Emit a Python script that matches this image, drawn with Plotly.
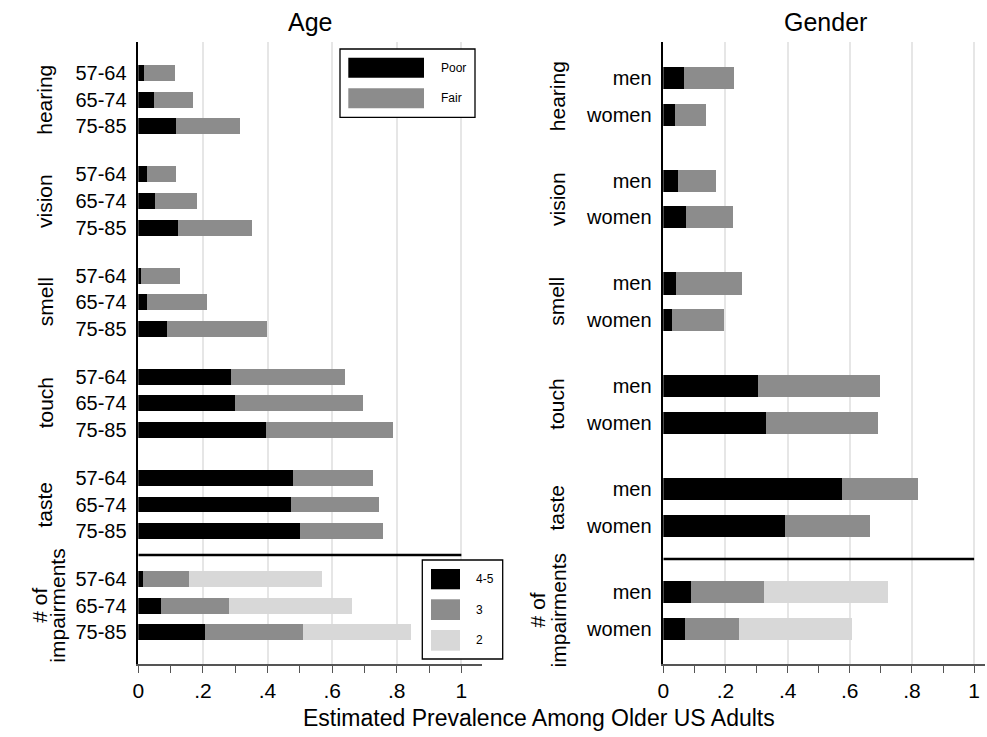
import plotly.graph_objects as go

# ---------------- data ----------------
senses = ["hearing", "vision", "smell", "touch", "taste"]
age_groups = ["57-64", "65-74", "75-85"]
genders = ["men", "women"]

# Age panel: share rating "Poor" and "Fair" (rows: age groups within each sense)
age_poor = {
    "hearing": [0.020, 0.048, 0.119],
    "vision":  [0.029, 0.053, 0.124],
    "smell":   [0.008, 0.028, 0.090],
    "touch":   [0.287, 0.300, 0.396],
    "taste":   [0.481, 0.473, 0.500],
}
age_fair = {
    "hearing": [0.094, 0.122, 0.197],
    "vision":  [0.090, 0.129, 0.228],
    "smell":   [0.121, 0.187, 0.310],
    "touch":   [0.355, 0.398, 0.394],
    "taste":   [0.247, 0.274, 0.258],
}
# number of impairments by age
age_imp_45 = [0.017, 0.071, 0.207]
age_imp_3 = [0.140, 0.211, 0.305]
age_imp_2 = [0.412, 0.381, 0.332]

# Gender panel
gen_poor = {
    "hearing": [0.066, 0.040],
    "vision":  [0.047, 0.074],
    "smell":   [0.042, 0.028],
    "touch":   [0.306, 0.330],
    "taste":   [0.576, 0.392],
}
gen_fair = {
    "hearing": [0.161, 0.097],
    "vision":  [0.124, 0.151],
    "smell":   [0.211, 0.167],
    "touch":   [0.392, 0.361],
    "taste":   [0.243, 0.273],
}
gen_imp_45 = [0.090, 0.072]
gen_imp_3 = [0.235, 0.171]
gen_imp_2 = [0.398, 0.364]

x_ticks = [0, 0.2, 0.4, 0.6, 0.8, 1.0]
x_ticktext = ["0", ".2", ".4", ".6", ".8", "1"]
impair_lines = ["# of", "impairments"]

# ---------------- styling / layout constants ----------------
W, H = 987, 737
BLACK, GRAY, LIGHT = "#000000", "#8c8c8c", "#d8d8d8"
FONT = "Liberation Sans, Arial, Helvetica, sans-serif"
GAP_L, GAP_R = 3.8, 2.8   # spacing between groups (in row units)
BAR_W = 0.6


def px(x):
    return x / W


def py(y):
    return 1 - y / H


fig = go.Figure()


def positions(gap, n):
    pos = []
    for g in range(len(senses) + 1):
        pos.append([g * gap + i for i in range(n)])
    return pos


pos_l = positions(GAP_L, len(age_groups))
pos_r = positions(GAP_R, len(genders))


def add_stack(xs, ys, color, xa, ya, name):
    fig.add_trace(go.Bar(x=xs, y=ys, orientation="h", width=BAR_W,
                         marker=dict(color=color, line=dict(width=0)),
                         name=name, showlegend=False, xaxis=xa, yaxis=ya))


# left panel
ly, lp, lf = [], [], []
for g, s in enumerate(senses):
    ly += pos_l[g]
    lp += age_poor[s]
    lf += age_fair[s]
add_stack(lp, ly, BLACK, "x", "y", "Poor")
add_stack(lf, ly, GRAY, "x", "y", "Fair")
add_stack(age_imp_45, pos_l[5], BLACK, "x", "y", "4-5")
add_stack(age_imp_3, pos_l[5], GRAY, "x", "y", "3")
add_stack(age_imp_2, pos_l[5], LIGHT, "x", "y", "2")

# right panel
ry, rp, rf = [], [], []
for g, s in enumerate(senses):
    ry += pos_r[g]
    rp += gen_poor[s]
    rf += gen_fair[s]
add_stack(rp, ry, BLACK, "x2", "y2", "Poor")
add_stack(rf, ry, GRAY, "x2", "y2", "Fair")
add_stack(gen_imp_45, pos_r[5], BLACK, "x2", "y2", "4-5")
add_stack(gen_imp_3, pos_r[5], GRAY, "x2", "y2", "3")
add_stack(gen_imp_2, pos_r[5], LIGHT, "x2", "y2", "2")

# ---------------- axes ----------------
plot_top, plot_bot = 42, 664
ydom = [py(plot_bot), py(plot_top)]


def xaxis_cfg(dom, rng):
    return dict(domain=dom, range=rng, tickvals=x_ticks, ticktext=x_ticktext,
                ticks="outside", ticklen=7, tickcolor="#555", tickwidth=1.3,
                minor=dict(dtick=0.1, tick0=0, ticks="outside", ticklen=7,
                           tickcolor="#555", tickwidth=1.3, showgrid=False),
                showgrid=True, gridcolor="#e6e6e6", gridwidth=1.5,
                zeroline=False, showline=True, linecolor="#555", linewidth=1.5,
                tickfont=dict(size=21, color="black", family=FONT),
                ticklabelstandoff=0, fixedrange=True, automargin=False)


def yaxis_cfg(xanchor, tv, tt, rng):
    return dict(domain=ydom, anchor=xanchor, range=rng, tickvals=tv, ticktext=tt,
                ticks="", showgrid=False, zeroline=False, showline=True,
                linecolor="black", linewidth=1.5, ticklabelstandoff=6,
                tickfont=dict(size=20, color="black", family=FONT),
                fixedrange=True, automargin=False)


l_tv = [v for grp in pos_l for v in grp]
l_tt = age_groups * 6
r_tv = [v for grp in pos_r for v in grp]
r_tt = genders * 6

fig.update_layout(
    template="none",
    width=W, height=H, margin=dict(l=0, r=0, t=0, b=0, pad=0),
    paper_bgcolor="white", plot_bgcolor="white", barmode="stack", bargap=0,
    font=dict(family=FONT, color="black"),
    xaxis=xaxis_cfg([px(138.3), px(481.7)], [0, 1.063]),
    yaxis=yaxis_cfg("x", l_tv, l_tt, [22.19, -1.17]),
    xaxis2=xaxis_cfg([px(663.3), px(985)], [0, 1.035]),
    yaxis2=yaxis_cfg("x2", r_tv, r_tt, [15.96, -0.975]),
)

# ---------------- separators ----------------
sep_l = (pos_l[4][-1] + pos_l[5][0]) / 2
sep_r = (pos_r[4][-1] + pos_r[5][0]) / 2
fig.add_shape(type="line", xref="x", yref="y", x0=0, x1=1, y0=sep_l, y1=sep_l,
              line=dict(color="black", width=2.5))
fig.add_shape(type="line", xref="x2", yref="y2", x0=0, x1=1, y0=sep_r, y1=sep_r,
              line=dict(color="black", width=2.5))

# ---------------- group labels ----------------
LBL_FONT = dict(size=21, family=FONT, color="black")
for g, name in enumerate(senses):
    fig.add_annotation(text=name, xref="paper", yref="y", x=px(45),
                       y=pos_l[g][1], textangle=-90, showarrow=False,
                       font=LBL_FONT, xanchor="center", yanchor="middle")
    fig.add_annotation(text=name, xref="paper", yref="y2", x=px(557),
                       y=(pos_r[g][0] + pos_r[g][1]) / 2, textangle=-90,
                       showarrow=False, font=LBL_FONT,
                       xanchor="center", yanchor="middle")

# two-line "# of impairments" label, one annotation per line
for line, xl, xr in zip(impair_lines, [40, 58], [537, 558]):
    fig.add_annotation(text=line, xref="paper", yref="y", x=px(xl),
                       y=pos_l[5][1], textangle=-90, showarrow=False,
                       font=LBL_FONT, xanchor="center", yanchor="middle")
    fig.add_annotation(text=line, xref="paper", yref="y2", x=px(xr),
                       y=(pos_r[5][0] + pos_r[5][1]) / 2, textangle=-90,
                       showarrow=False, font=LBL_FONT,
                       xanchor="center", yanchor="middle")

# ---------------- titles ----------------
fig.add_annotation(text="Age", xref="paper", yref="paper", x=px(310), y=py(22),
                   showarrow=False, font=dict(size=25, family=FONT),
                   xanchor="center", yanchor="middle")
fig.add_annotation(text="Gender", xref="paper", yref="paper", x=px(825), y=py(22),
                   showarrow=False, font=dict(size=25, family=FONT),
                   xanchor="center", yanchor="middle")
fig.add_annotation(text="Estimated Prevalence Among Older US Adults",
                   xref="paper", yref="paper", x=px(539), y=py(718),
                   showarrow=False, font=dict(size=23, family=FONT),
                   xanchor="center", yanchor="middle")

# ---------------- legends (drawn) ----------------
def legend_box(x0, y0, x1, y1):
    fig.add_shape(type="rect", xref="paper", yref="paper",
                  x0=px(x0), x1=px(x1), y0=py(y0), y1=py(y1),
                  line=dict(color="black", width=1.3), fillcolor="white",
                  layer="above")


def legend_item(sx0, sx1, sy0, sy1, color, label, tx):
    fig.add_shape(type="rect", xref="paper", yref="paper",
                  x0=px(sx0), x1=px(sx1), y0=py(sy0), y1=py(sy1),
                  line=dict(width=0), fillcolor=color, layer="above")
    fig.add_annotation(text=label, xref="paper", yref="paper", x=px(tx),
                       y=py((sy0 + sy1) / 2), showarrow=False,
                       xanchor="left", yanchor="middle",
                       font=dict(size=12, family=FONT, color="black"))


legend_box(340, 49, 475, 117.3)
legend_item(348.3, 424, 57.7, 77.7, BLACK, "Poor", 439)
legend_item(348.3, 424, 88.3, 108.3, GRAY, "Fair", 439)

legend_box(422.3, 560, 502.7, 659)
legend_item(431, 460, 569, 589.3, BLACK, "4-5", 474)
legend_item(431, 460, 599.3, 620, GRAY, "3", 474)
legend_item(431, 460, 630, 650.7, LIGHT, "2", 474)

fig.write_html("out.html",
               config=dict(displayModeBar=False),
               post_script="document.body.style.margin='0px';"
                           "document.body.style.overflow='hidden';")
